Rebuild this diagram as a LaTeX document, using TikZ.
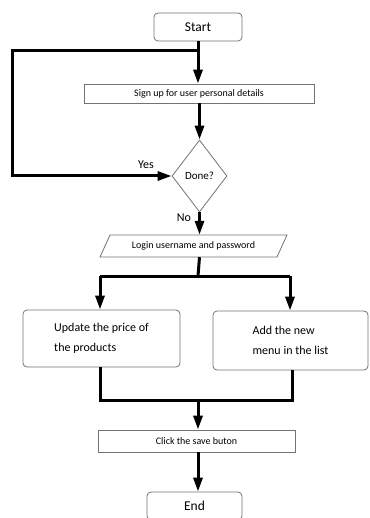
\documentclass[tikz,border=0pt]{standalone}
\usepackage{fontspec}
\setmainfont{Carlito}
\usetikzlibrary{arrows.meta,shapes.geometric,calc}
\begin{document}
\begin{tikzpicture}[x=1pt,y=-1pt,
  box/.style={draw=black!55,line width=0.8pt,inner sep=0pt,fill=white},
  rbox/.style={box,rounded corners=4pt},
  flow/.style={line width=3pt,-{Triangle[length=14pt,width=9pt]}},
  plain/.style={line width=3pt},
  lbl/.style={font=\fontsize{12}{14}\selectfont}]
\useasboundingbox (0,0) rectangle (369,518);
% nodes
\node[rbox,minimum width=88pt,minimum height=28pt,font=\fontsize{13.5}{16}\selectfont] (start) at (198,27) {Start};
\node[box,minimum width=230pt,minimum height=19pt,font=\fontsize{10}{12}\selectfont] (signup) at (199,93.5) {Sign up for user personal details};
\node[diamond,box,minimum width=55pt,minimum height=72pt,font=\fontsize{11}{13}\selectfont] (done) at (199.5,176) {Done?};
\node[inner sep=0pt,minimum width=177pt,minimum height=22pt,font=\fontsize{10}{12}\selectfont] (login) at (193.5,246) {Login username and password};
\draw[draw=black!55,line width=0.8pt] (100,257) -- (110,235) -- (287,235) -- (277,257) -- cycle;
\node[rbox,minimum width=157pt,minimum height=57pt,align=left,font=\fontsize{12}{20}\selectfont] (update) at (101.5,338.5) {Update the price of\\the products};
\node[rbox,minimum width=155pt,minimum height=59pt,align=left,font=\fontsize{12}{20}\selectfont] (add) at (290.5,340.5) {Add the new\\menu in the list};
\node[box,minimum width=197pt,minimum height=22pt,font=\fontsize{10}{12}\selectfont] (save) at (196.5,441) {Click the save buton};
\node[rbox,minimum width=95pt,minimum height=28pt,font=\fontsize{13.5}{16}\selectfont] (end) at (194.5,506) {End};
% coordinates
\coordinate (lt) at (12,51);
\coordinate (split) at (198,276);
\coordinate (ul) at (100,276);
\coordinate (ur) at (290,276);
\coordinate (ml) at (100,400);
\coordinate (mr) at (292,400);
\coordinate (merge) at (198,400);
% connectors
\draw[flow] (start.south) -- (signup.north -| start.south);
\draw[flow] (start.south |- lt) -- (lt) |- (done.west);
\draw[flow] (signup.south -| done.north) -- (done.north);
\draw[flow] (done.south) -- (done.south |- login.north);
\draw[plain] (done.south |- login.south) -- (split);
\draw[plain] (ul) -- (ur);
\draw[flow] (ul) -- (ul |- update.north);
\draw[flow] (ur) -- (ur |- add.north);
\draw[plain] (ml |- update.south) -- (ml) -- (mr) -- (mr |- add.south);
\draw[flow] (merge) -- (merge |- save.north);
\draw[flow] (save.south -| merge) -- (end.north -| merge);
% labels
\node[lbl] (yes) at (146,165) {Yes};
\node[lbl] (no) at (184,218) {No};
\end{tikzpicture}
\end{document}
